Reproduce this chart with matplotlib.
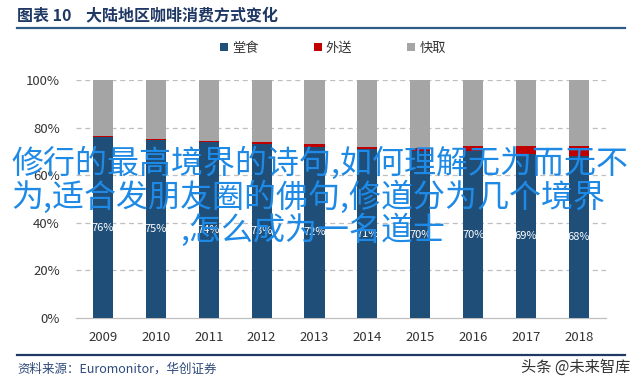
import matplotlib
matplotlib.use('Agg')
import numpy as np
import matplotlib.pyplot as plt
from matplotlib.lines import Line2D

plt.rcParams['font.family'] = ['Noto Sans CJK SC', 'DejaVu Sans']

years = ['2009', '2010', '2011', '2012', '2013', '2014', '2015', '2016', '2017', '2018']
dine_in = [76, 75, 74, 73, 72, 71, 70, 70, 69, 68]
delivery = [0.4, 0.4, 0.5, 0.8, 1.0, 1.0, 1.5, 2.5, 3.5, 4.5]
takeaway = [23.6, 24.6, 25.5, 26.2, 27.0, 28.0, 28.5, 27.5, 27.5, 27.5]
series_names = ['堂食', '外送', '快取']
colors = ['#1F4E79', '#C00000', '#A5A5A5']

fig = plt.figure(figsize=(6.4, 3.85), dpi=100)
ax = fig.add_axes([0.1195, 0.174, 0.8266, 0.618])

x = np.arange(len(years))
w = 0.38
b1 = ax.bar(x, dine_in, w, color=colors[0], label=series_names[0], zorder=3)
b2 = ax.bar(x, delivery, w, bottom=dine_in, color=colors[1],
            label=series_names[1], zorder=3)
bottom3 = np.array(dine_in) + np.array(delivery)
b3 = ax.bar(x, takeaway, w, bottom=bottom3, color=colors[2],
            label=series_names[2], zorder=3)

ax.bar_label(b1, labels=['{}%'.format(v) for v in dine_in],
             label_type='center', color='white', fontsize=8)

ax.set_xlim(-0.5, len(years) - 0.5)
ax.set_ylim(0, 100)
ax.set_yticks([0, 20, 40, 60, 80, 100])
ax.set_yticklabels(['{}%'.format(v) for v in range(0, 101, 20)])
ax.set_xticks(x)
ax.set_xticklabels(years)
ax.tick_params(axis='both', length=0, labelsize=9.5, colors='#333333')
ax.tick_params(axis='y', pad=12)
ax.tick_params(axis='x', pad=9)
for v in [20, 40, 60, 80, 100]:
    ax.axhline(v, color='#BFBFBF', lw=0.9, ls=(0, (4, 3)), zorder=1)
for s in ['top', 'right', 'left']:
    ax.spines[s].set_visible(False)
ax.spines['bottom'].set_color('#BFBFBF')
ax.spines['bottom'].set_linewidth(0.9)

fig.legend(handles=[b1, b2, b3], labels=series_names, loc='center',
           bbox_to_anchor=(0.52, 0.875), ncol=3, frameon=False,
           handlelength=0.6, handleheight=0.6, handletextpad=0.3,
           columnspacing=4.2, fontsize=9.5, labelcolor='#333333')

# header and footer
fig.text(0.027, 0.961, '图表 10    大陆地区咖啡消费方式变化', fontsize=11.5,
         fontweight='bold', color='#1F3864', va='center')
fig.add_artist(Line2D([0.027, 0.977], [0.926, 0.926], color='#2E5C8A', lw=1.6))
fig.add_artist(Line2D([0.027, 0.977], [0.078, 0.078], color='#1F3864', lw=1.6))
fig.text(0.027, 0.042, '资料来源：Euromonitor，华创证券', fontsize=9,
         style='italic', color='#2E4A7A', va='center')
fig.text(0.985, 0.047, '头条 @未来智库', fontsize=11, color='#333333',
         ha='right', va='center')

# overlay text
blue = '#1E8AE6'
fig.text(0.018, 1 - 163 / 385, '修行的最高境界的诗句,如何理解无为而无不',
         fontsize=23, color=blue, va='center')
fig.text(0.018, 1 - 197 / 385, '为,适合发朋友圈的佛句,修道分为几个境界',
         fontsize=23, color=blue, va='center')
fig.text(0.281, 1 - 230 / 385, ',怎么成为一名道士',
         fontsize=23, color=blue, va='center')

fig.savefig('out.png', dpi=100)
